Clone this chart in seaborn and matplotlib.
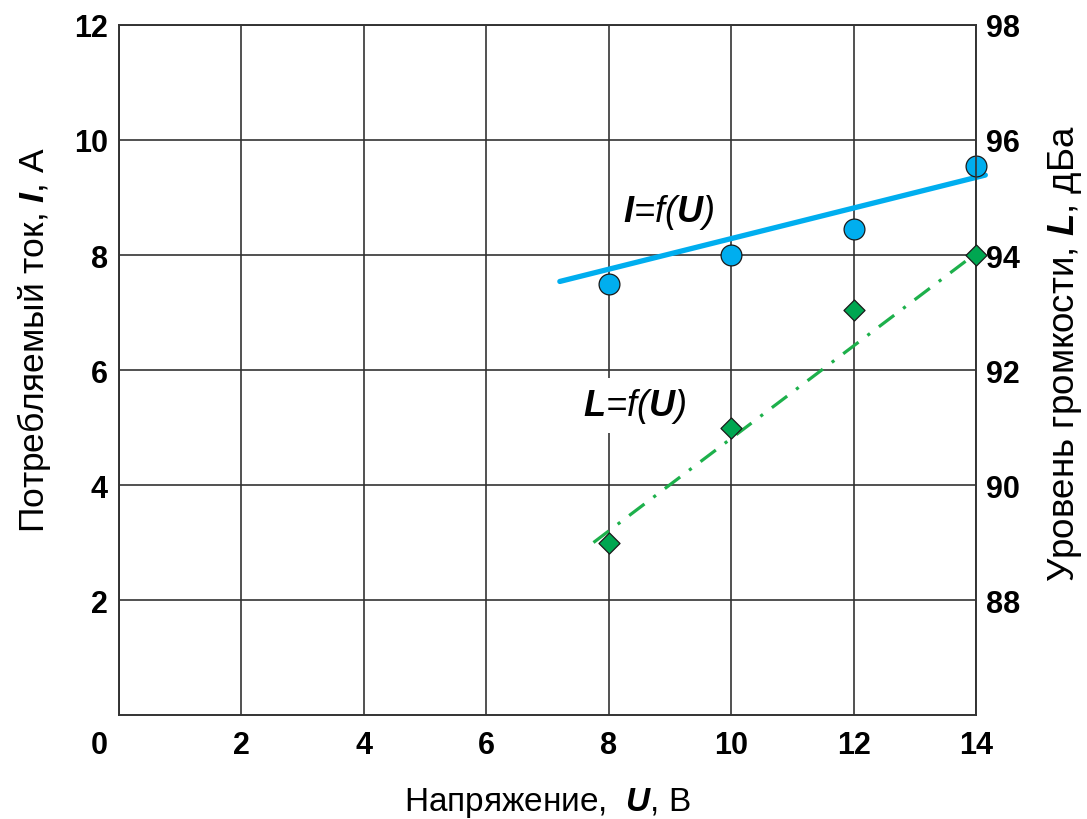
import numpy as np
import pandas as pd
import matplotlib
matplotlib.use("Agg")
import matplotlib.pyplot as plt
import seaborn as sns

voltage = [8, 10, 12, 14]
current = [7.5, 8.0, 8.45, 9.55]          # I, A (left axis)
loudness = [89.0, 91.0, 93.05, 94.0]      # L, dBA (right axis)

# Trend lines (end points as drawn in the chart)
current_fit_u = [7.2, 14.15]
current_fit = [7.54, 9.39]
loud_fit_u = [7.75, 14.0]
loud_fit = [89.0, 94.03]

x_ticks = [0, 2, 4, 6, 8, 10, 12, 14]
left_ticks = [2, 4, 6, 8, 10, 12]
right_ticks = [88, 90, 92, 94, 96, 98]

blue = "#00AEEF"
green = "#00A651"
grid_col = "#333333"

sns.set_theme(style="whitegrid")
plt.rcParams['font.family'] = ['Liberation Sans', 'DejaVu Sans']
plt.rcParams['text.color'] = 'black'
plt.rcParams['axes.labelcolor'] = 'black'
plt.rcParams['mathtext.fontset'] = 'custom'
plt.rcParams['mathtext.rm'] = 'Liberation Sans'
plt.rcParams['mathtext.it'] = 'Liberation Sans:italic'
plt.rcParams['mathtext.bf'] = 'Liberation Sans:bold'
plt.rcParams['mathtext.bfit'] = 'Liberation Sans:italic:bold'

df = pd.DataFrame({'U': voltage, 'I': current, 'L': loudness})
fit_i = pd.DataFrame({'U': current_fit_u, 'I': current_fit})
fit_l = pd.DataFrame({'U': loud_fit_u, 'L': loud_fit})

fig = plt.figure(figsize=(10.87, 8.2), dpi=100)
ax = fig.add_axes([0.1095, 0.1268, 0.7885, 0.8415])
ax2 = ax.twinx()

# current curve on the left axis
sns.lineplot(data=fit_i, x='U', y='I', ax=ax, color=blue, lw=3.8,
             clip_on=False, zorder=3)
sns.scatterplot(data=df, x='U', y='I', ax=ax, color=blue, marker='o', s=225,
                edgecolor='#1a1a1a', linewidth=0.9, clip_on=False, zorder=4)

# loudness curve on the right axis
sns.lineplot(data=fit_l, x='U', y='L', ax=ax2, color='#1DB04B', lw=2.3,
             dashes=False, clip_on=False, zorder=3)
ax2.lines[0].set_dashes([6, 3.5, 1, 3.5])
sns.scatterplot(data=df, x='U', y='L', ax=ax2, color=green, marker='D', s=115,
                edgecolor='#1a1a1a', linewidth=0.9, clip_on=False, zorder=4)

ax.set_xlim(0, 14)
ax.set_ylim(0, 12)
ax2.set_ylim(86, 98)

ax.set_xticks(x_ticks)
ax.set_yticks(left_ticks)
ax2.set_yticks(right_ticks)
# the "0" sits left of the corner in the original, drawn separately below
ax.set_xticklabels([''] + [str(t) for t in x_ticks[1:]], fontweight='bold', fontsize=22)
ax.set_yticklabels([str(t) for t in left_ticks], fontweight='bold', fontsize=22)
ax2.set_yticklabels([str(t) for t in right_ticks], fontweight='bold', fontsize=22)
ax.annotate(str(x_ticks[0]), xy=(x_ticks[0], 0), xycoords=ax.get_xaxis_transform(),
            xytext=(-8, -11), textcoords='offset points', ha='right', va='top',
            fontweight='bold', fontsize=22)

ax.tick_params(axis='both', length=0, colors='black')
ax.tick_params(axis='x', pad=11)
ax.tick_params(axis='y', pad=8)
ax2.tick_params(axis='y', length=0, pad=7, colors='black')

ax.grid(True, color=grid_col, lw=1.2)
ax2.grid(False)
for a in (ax, ax2):
    for sp in a.spines.values():
        sp.set_color(grid_col)
        sp.set_linewidth(1.2)

ax.set_xlabel("Напряжение,  $\\mathbfit{U}$, В", fontsize=24, labelpad=18)
ax.set_ylabel("Потребляемый ток, $\\mathbfit{I}$, А", fontsize=25.5, labelpad=15)
ax2.set_ylabel("Уровень громкости, $\\mathbfit{L}$, дБа", fontsize=26.5, labelpad=19)
ax.yaxis.label.set_y(0.545)
ax2.yaxis.label.set_y(0.525)

box = dict(facecolor='white', edgecolor='none', pad=6)
ax.text(8.97, 8.76, "$\\mathbfit{I}$=f($\\mathbfit{U}$)", fontstyle='italic',
        fontsize=26, ha='center', va='center', bbox=box, zorder=2)
ax.text(8.42, 5.38, "$\\mathbfit{L}$=f($\\mathbfit{U}$)", fontstyle='italic',
        fontsize=26, ha='center', va='center', bbox=box, zorder=2)

fig.savefig("out.png", dpi=100, facecolor='white')
